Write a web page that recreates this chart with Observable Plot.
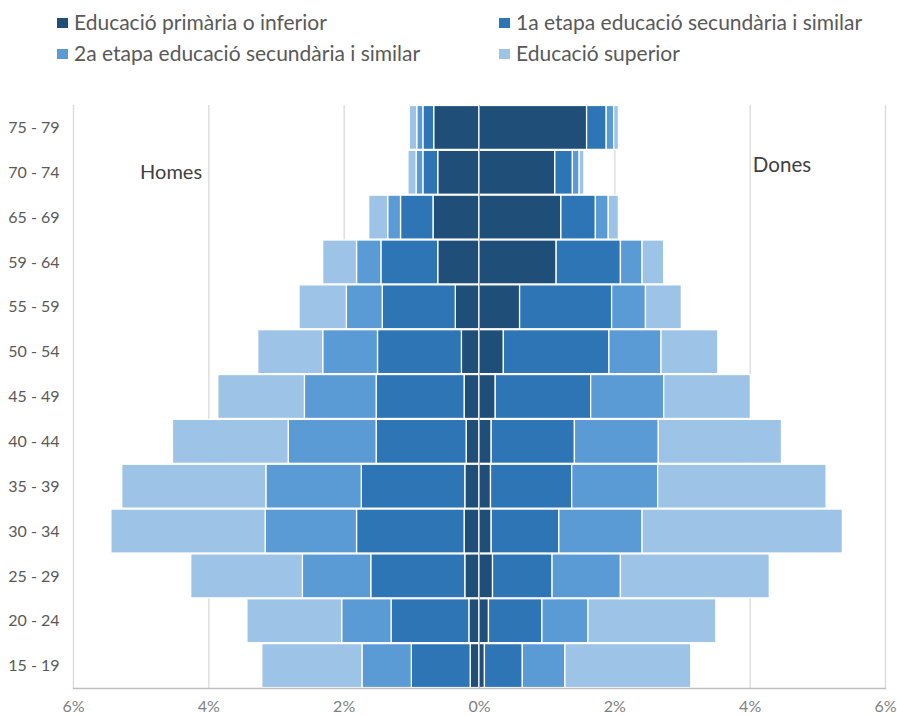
<!DOCTYPE html>
<html>
<head>
<meta charset="utf-8">
<script src="https://cdn.jsdelivr.net/npm/d3@7"></script>
<script src="https://cdn.jsdelivr.net/npm/@observablehq/plot@0.6"></script>
<style>
  body { margin: 0; background: #fff; font-family: Lato, sans-serif; }
  #legend { position: relative; width: 897px; height: 80px; color: #595959; font-size: 21px; }
  .item { position: absolute; display: flex; align-items: center; white-space: nowrap; line-height: 26px; }
  .sw { width: 11px; height: 10px; margin-right: 6px; margin-top: 2px; }
  #chart svg { display: block; }
</style>
</head>
<body>
<div id="legend"></div>
<div id="chart"></div>
<script>
const ages = ["75 - 79","70 - 74","65 - 69","59 - 64","55 - 59","50 - 54","45 - 49","40 - 44","35 - 39","30 - 34","25 - 29","20 - 24","15 - 19"];
const levels = ["Educació primària o inferior","1a etapa educació secundària i similar","2a etapa educació secundària i similar","Educació superior"];
const colors = ["#1f4e79","#2e75b6","#5b9bd5","#9dc3e6"];
const sexLabels = ["Homes","Dones"];
const xTicks = [-6,-4,-2,0,2,4,6];

// Homes (% of population), per age group, top to bottom
const primariaHomes = [0.67,0.61,0.68,0.61,0.35,0.26,0.22,0.19,0.21,0.22,0.21,0.15,0.13];
const sec1Homes     = [0.16,0.22,0.48,0.84,1.08,1.24,1.30,1.33,1.53,1.59,1.39,1.15,0.87];
const sec2Homes     = [0.09,0.10,0.19,0.36,0.53,0.81,1.06,1.30,1.41,1.35,1.01,0.73,0.73];
const supHomes      = [0.11,0.12,0.28,0.50,0.70,0.96,1.28,1.71,2.13,2.28,1.65,1.40,1.48];
// Dones
const primariaDones = [1.59,1.12,1.21,1.14,0.60,0.36,0.24,0.18,0.17,0.18,0.20,0.14,0.08];
const sec1Dones     = [0.29,0.26,0.51,0.95,1.36,1.56,1.41,1.23,1.20,1.00,0.88,0.79,0.56];
const sec2Dones     = [0.11,0.10,0.19,0.32,0.50,0.77,1.08,1.24,1.27,1.23,1.01,0.68,0.63];
const supDones      = [0.07,0.07,0.15,0.32,0.53,0.84,1.28,1.82,2.49,2.96,2.20,1.89,1.86];

const homesSeries = [primariaHomes, sec1Homes, sec2Homes, supHomes];
const donesSeries = [primariaDones, sec1Dones, sec2Dones, supDones];

const data = [];
levels.forEach((lvl, i) => {
  ages.forEach((age, j) => {
    data.push({age, level: lvl, sex: "Homes", value: -homesSeries[i][j]});
    data.push({age, level: lvl, sex: "Dones", value: donesSeries[i][j]});
  });
});

// legend
const legend = document.getElementById("legend");
const legendPos = [[57,9],[499,9],[57,40],[499,40]];
levels.forEach((lvl, i) => {
  const d = document.createElement("div");
  d.className = "item";
  d.style.left = legendPos[i][0] + "px";
  d.style.top = legendPos[i][1] + "px";
  d.innerHTML = `<span class="sw" style="background:${colors[i]}"></span><span>${lvl}</span>`;
  legend.appendChild(d);
});

const sexText = [
  {x: -4.1, age: "70 - 74", label: sexLabels[0]},
  {x: 4.04, age: "70 - 74", label: sexLabels[1]}
];

const chart = Plot.plot({
  width: 897,
  height: 636,
  marginTop: 25,
  marginBottom: 28,
  marginLeft: 73,
  marginRight: 12,
  style: {fontFamily: "Lato, sans-serif", fontSize: "16px", color: "#595959", background: "#fff"},
  x: {domain: [-6, 6]},
  y: {domain: ages, paddingInner: 0.02, paddingOuter: 0.01, round: false},
  color: {domain: levels, range: colors},
  marks: [
    Plot.ruleX([-6,-4,-2,2,4,6], {stroke: "#d9d9d9", strokeWidth: 1.3}),
    Plot.barX(data, Plot.stackX({x: "value", y: "age", fill: "level", order: levels, stroke: "white", strokeWidth: 1.3})),
    Plot.ruleX([0], {stroke: "#9aa7b4", strokeWidth: 0.8}),
    Plot.frame({anchor: "bottom", stroke: "#bfbfbf", strokeWidth: 1.3}),
    Plot.axisX({ticks: xTicks, tickFormat: d => Math.abs(d) + "%", tickSize: 0, tickPadding: 12, fontSize: 16, fill: "#7f7f7f", label: null}),
    Plot.axisY({tickSize: 0, tickPadding: 14, fontSize: 16, fill: "#595959", label: null}),
    Plot.text(sexText.slice(0, 1), {x: "x", y: "age", text: "label", textAnchor: "end", fontSize: 20, fill: "#404040"}),
    Plot.text(sexText.slice(1), {x: "x", y: "age", text: "label", textAnchor: "start", dy: -7, fontSize: 20.5, fill: "#404040"})
  ]
});
document.getElementById("chart").appendChild(chart);
</script>
</body>
</html>
